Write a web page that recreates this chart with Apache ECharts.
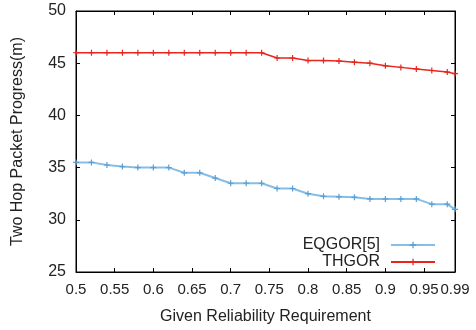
<!DOCTYPE html>
<html>
<head>
<meta charset="utf-8">
<script src="https://cdn.jsdelivr.net/npm/echarts@6/dist/echarts.min.js"></script>
<style>
  html, body { margin: 0; padding: 0; background: #fff; }
  #chart { width: 476px; height: 330px; }
</style>
</head>
<body>
<div id="chart"></div>
<script>
var reliability = [0.5, 0.52, 0.54, 0.56, 0.58, 0.6, 0.62, 0.64, 0.66, 0.68, 0.7, 0.72, 0.74,
	0.76, 0.78, 0.8, 0.82, 0.84, 0.86, 0.88, 0.9, 0.92, 0.94, 0.96, 0.98, 0.99];
var eqgor = [35.5, 35.5, 35.25, 35.1, 35, 35, 35, 34.5, 34.5, 34, 33.5, 33.5, 33.5,
	33, 33, 32.5, 32.25, 32.2, 32.15, 32, 32, 32, 32, 31.5, 31.5, 31];
var thgor = [46, 46, 46, 46, 46, 46, 46, 46, 46, 46, 46, 46, 46,
	45.5, 45.5, 45.25, 45.25, 45.2, 45.1, 45, 44.75, 44.6, 44.45, 44.3, 44.15, 44];
var yTicks = [25, 30, 35, 40, 45, 50];

var plus = 'path://M4,0H6V4H10V6H6V10H4V6H0V4H4Z';
var font = 'Liberation Sans';

function pairs(ys) {
	return reliability.map(function(x, i) { return [x, ys[i]]; });
}

var myChart = echarts.init(document.getElementById('chart'));
myChart.setOption({
	animation: false,
	textStyle: { fontFamily: font },
	grid: {
		left: 76,
		right: 21,
		top: 11,
		bottom: 58,
		show: true,
		borderColor: '#000',
		borderWidth: 1
	},
	legend: {
		orient: 'vertical',
		right: 40,
		top: 237,
		padding: 0,
		align: 'right',
		itemWidth: 44,
		itemHeight: 8,
		itemGap: 1,
		textStyle: { fontFamily: font, fontSize: 16, color: '#222', padding: [0, 6, 0, 0] },
		data: ['EQGOR[5]', 'THGOR']
	},
	xAxis: [{
		type: 'value',
		min: 0.5,
		max: 0.99,
		interval: 0.05,
		name: 'Given Reliability Requirement',
		nameLocation: 'middle',
		nameGap: 37,
		nameTextStyle: { fontFamily: font, fontSize: 16, color: '#222' },
		axisLine: { show: true, lineStyle: { color: '#000' } },
		axisTick: { inside: true, length: 4, lineStyle: { color: '#000' } },
		axisLabel: { fontSize: 15, color: '#222', margin: 10 },
		splitLine: { show: false }
	}, {
		type: 'value',
		position: 'top',
		min: 0.5,
		max: 0.99,
		interval: 0.05,
		axisLine: { show: true, lineStyle: { color: '#000' } },
		axisTick: { inside: true, length: 4, lineStyle: { color: '#000' } },
		axisLabel: { show: false },
		splitLine: { show: false }
	}],
	yAxis: [{
		type: 'value',
		min: yTicks[0],
		max: yTicks[yTicks.length - 1],
		interval: 5,
		name: 'Two Hop Packet Progress(m)',
		nameLocation: 'middle',
		nameGap: 50,
		nameTextStyle: { fontFamily: font, fontSize: 16, color: '#222' },
		axisLine: { show: true, lineStyle: { color: '#000' } },
		axisTick: { inside: true, length: 4, lineStyle: { color: '#000' } },
		axisLabel: { fontSize: 16, color: '#222', margin: 10 },
		splitLine: { show: false }
	}, {
		type: 'value',
		position: 'right',
		min: yTicks[0],
		max: yTicks[yTicks.length - 1],
		interval: 5,
		axisLine: { show: true, lineStyle: { color: '#000' } },
		axisTick: { inside: true, length: 4, lineStyle: { color: '#000' } },
		axisLabel: { show: false },
		splitLine: { show: false }
	}],
	series: [{
		name: 'EQGOR[5]',
		type: 'line',
		data: pairs(eqgor),
		symbol: plus,
		symbolSize: 6,
		showAllSymbol: true,
		lineStyle: { color: '#86bee6', width: 2 },
		itemStyle: { color: '#5a9fd4' }
	}, {
		name: 'THGOR',
		type: 'line',
		data: pairs(thgor),
		symbol: plus,
		symbolSize: 6,
		showAllSymbol: true,
		lineStyle: { color: '#e8261e', width: 1.5 },
		itemStyle: { color: '#e8261e' }
	}]
});
</script>
</body>
</html>
